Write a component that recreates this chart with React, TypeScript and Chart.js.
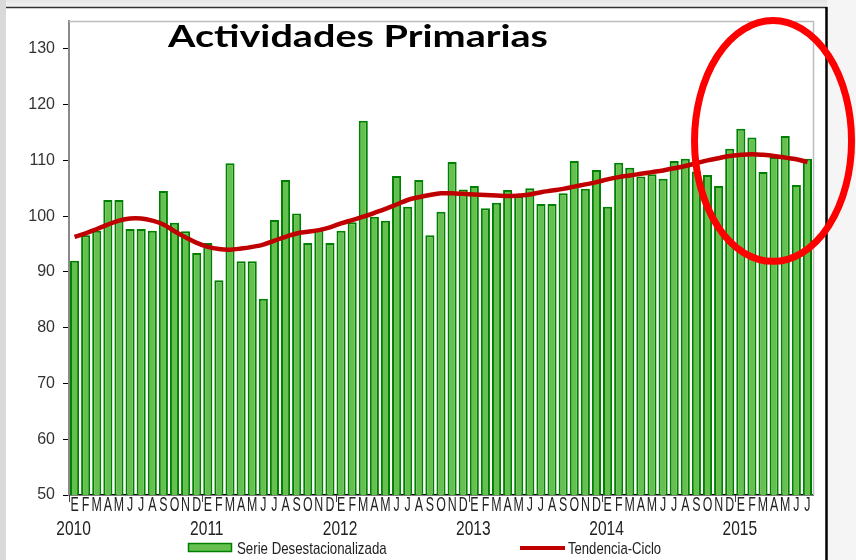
import React, { useEffect, useRef } from "react";
import { Chart, registerables } from "chart.js";

Chart.register(...registerables);

const TITLE = "Actividades Primarias";
const SERIES_NAME = "Serie Desestacionalizada";
const TREND_NAME = "Tendencia-Ciclo";

const MONTHS = ["E", "F", "M", "A", "M", "J", "J", "A", "S", "O", "N", "D"];
const YEARS = ["2010", "2011", "2012", "2013", "2014", "2015"];
const Y_TICKS = [50, 60, 70, 80, 90, 100, 110, 120, 130];
const Y_MIN = 50;
const Y_MAX = 135;

const SERIE_2010 = [92.0, 96.6, 97.4, 102.9, 102.9, 97.7, 97.7, 97.4, 104.5, 98.8, 97.3, 93.4];
const SERIE_2011 = [95.2, 88.5, 109.5, 91.9, 91.9, 85.2, 99.3, 106.5, 100.5, 95.2, 97.7, 95.2];
const SERIE_2012 = [97.4, 98.9, 117.1, 99.9, 99.2, 107.2, 101.7, 106.5, 96.6, 100.8, 109.7, 104.8];
const SERIE_2013 = [105.4, 101.4, 102.4, 104.7, 103.6, 105.0, 102.2, 102.2, 104.1, 109.9, 104.9, 108.3];
const SERIE_2014 = [101.7, 109.6, 108.7, 107.1, 107.5, 106.7, 109.9, 110.3, 108.0, 107.4, 105.4, 112.1];
const SERIE_2015 = [115.7, 114.1, 107.9, 110.6, 114.4, 105.6, 110.3];

const TREND_2010 = [96.3, 96.9, 97.7, 98.5, 99.2, 99.6, 99.6, 99.2, 98.5, 97.3, 96.2, 95.2];
const TREND_2011 = [94.5, 94.1, 94.0, 94.2, 94.5, 94.9, 95.6, 96.3, 96.9, 97.2, 97.5, 98.0];
const TREND_2012 = [98.7, 99.3, 99.9, 100.6, 101.3, 102.1, 102.9, 103.4, 103.8, 104.1, 104.1, 104.0];
const TREND_2013 = [103.9, 103.8, 103.7, 103.6, 103.7, 103.9, 104.3, 104.6, 104.9, 105.3, 105.7, 106.1];
const TREND_2014 = [106.6, 107.0, 107.3, 107.6, 107.9, 108.2, 108.6, 109.0, 109.5, 110.0, 110.4, 110.8];
const TREND_2015 = [111.0, 111.1, 111.0, 110.8, 110.5, 110.2, 109.7];

// red highlight ellipse (annotation), in data units
const ELLIPSE_CENTER_INDEX = 62.9;
const ELLIPSE_CENTER_VALUE = 113.5;
const ELLIPSE_HALF_MONTHS = 7.07;
const ELLIPSE_HALF_UNITS = 21.6;

const SERIE = [...SERIE_2010, ...SERIE_2011, ...SERIE_2012, ...SERIE_2013, ...SERIE_2014, ...SERIE_2015];
const TREND = [...TREND_2010, ...TREND_2011, ...TREND_2012, ...TREND_2013, ...TREND_2014, ...TREND_2015];
const LABELS = YEARS.flatMap((y) => MONTHS.map((m) => `${m} ${y}`)).slice(0, SERIE.length);

const BAR_FILL = "#66C04F";
const BAR_BORDER = "#008000";
const LINE_COLOR = "#C00000";
const FONT = '"Liberation Sans", Arial, sans-serif';
const TITLE_FONT = 'bold 31px Lato, "Open Sans", sans-serif';

function drawScaled(
  ctx: CanvasRenderingContext2D,
  text: string,
  x: number,
  y: number,
  font: string,
  sx: number,
  align: CanvasTextAlign,
  color: string
) {
  ctx.save();
  ctx.font = font;
  ctx.fillStyle = color;
  ctx.textAlign = align;
  ctx.textBaseline = "alphabetic";
  ctx.translate(x, y);
  ctx.scale(sx, 1);
  ctx.fillText(text, 0, 0);
  ctx.restore();
}

const decorPlugin = {
  id: "decor",
  beforeDraw(chart: any) {
    const ctx: CanvasRenderingContext2D = chart.ctx;
    const W = chart.width;
    const H = chart.height;
    ctx.save();
    ctx.fillStyle = "#d9d9d9";
    ctx.fillRect(0, 0, W, H);
    const g = ctx.createLinearGradient(0, 0, 0, 8);
    g.addColorStop(0, "#e6e6e6");
    g.addColorStop(1, "#f4f4f4");
    ctx.fillStyle = g;
    ctx.fillRect(6, 0, W - 6, 8);
    ctx.fillStyle = "#f5f5f5";
    ctx.fillRect(827, 0, W - 827, H);
    ctx.fillStyle = "#ffffff";
    ctx.fillRect(6, 7, 820, H - 7);
    ctx.strokeStyle = "#333333";
    ctx.lineWidth = 1.5;
    ctx.beginPath();
    ctx.moveTo(6, 7.5);
    ctx.lineTo(827, 7.5);
    ctx.stroke();
    ctx.strokeStyle = "#000000";
    ctx.lineWidth = 2.5;
    ctx.beginPath();
    ctx.moveTo(826.5, 7);
    ctx.lineTo(826.5, H);
    ctx.stroke();
    ctx.restore();
  },
  beforeDatasetsDraw(chart: any) {
    const ctx: CanvasRenderingContext2D = chart.ctx;
    const a = chart.chartArea;
    ctx.save();
    ctx.strokeStyle = "#bdbdbd";
    ctx.lineWidth = 1.5;
    ctx.beginPath();
    ctx.moveTo(a.left, a.top + 0.5);
    ctx.lineTo(a.right + 0.5, a.top + 0.5);
    ctx.lineTo(a.right + 0.5, a.bottom);
    ctx.stroke();
    ctx.restore();
  },
  afterDraw(chart: any) {
    const ctx: CanvasRenderingContext2D = chart.ctx;
    const xs = chart.scales.x;
    const ys = chart.scales.y;
    const a = chart.chartArea;
    const step = xs.getPixelForValue(1) - xs.getPixelForValue(0);

    // year boundary ticks
    ctx.save();
    ctx.strokeStyle = "#444";
    ctx.lineWidth = 1;
    for (let i = 0; i < SERIE.length; i += 12) {
      const px = Math.round(xs.getPixelForValue(i) - step / 2) + 0.5;
      ctx.beginPath();
      ctx.moveTo(px, a.bottom);
      ctx.lineTo(px, a.bottom + 7);
      ctx.stroke();
    }
    ctx.restore();

    // month letters and years
    LABELS.forEach((_, i) => {
      const px = xs.getPixelForValue(i);
      drawScaled(ctx, MONTHS[i % 12], px, a.bottom + 16, `20px ${FONT}`, 0.62, "center", "#222");
      if (i % 12 === 0) {
        drawScaled(ctx, YEARS[Math.floor(i / 12)], px - 1, a.bottom + 40, `21px ${FONT}`, 0.74, "center", "#222");
      }
    });

    // title
    ctx.save();
    ctx.font = TITLE_FONT;
    const tw = ctx.measureText(TITLE).width;
    ctx.restore();
    drawScaled(ctx, TITLE, 168, 47, TITLE_FONT, 380 / tw, "left", "#000");

    // legend
    ctx.save();
    ctx.fillStyle = BAR_FILL;
    ctx.fillRect(188, 543, 44, 9);
    ctx.strokeStyle = BAR_BORDER;
    ctx.lineWidth = 1.5;
    ctx.strokeRect(188.5, 543.5, 43, 8);
    ctx.strokeStyle = LINE_COLOR;
    ctx.lineWidth = 4;
    ctx.beginPath();
    ctx.moveTo(520, 548);
    ctx.lineTo(565, 548);
    ctx.stroke();
    ctx.restore();
    drawScaled(ctx, SERIES_NAME, 237, 554, `17px ${FONT}`, 0.78, "left", "#222");
    drawScaled(ctx, TREND_NAME, 568, 554, `17px ${FONT}`, 0.77, "left", "#222");

    // highlight ellipse
    const cx = xs.getPixelForValue(ELLIPSE_CENTER_INDEX);
    const cy = ys.getPixelForValue(ELLIPSE_CENTER_VALUE);
    const rx = ELLIPSE_HALF_MONTHS * step;
    const ry = ys.getPixelForValue(ELLIPSE_CENTER_VALUE - ELLIPSE_HALF_UNITS) - cy;
    ctx.save();
    ctx.strokeStyle = "#FF0000";
    ctx.lineWidth = 7;
    ctx.beginPath();
    ctx.ellipse(cx, cy, rx, ry, 0, 0, Math.PI * 2);
    ctx.stroke();
    ctx.restore();
  },
};

export default function App() {
  const ref = useRef<HTMLCanvasElement | null>(null);

  useEffect(() => {
    if (!ref.current) return;
    const chart = new Chart(ref.current, {
      type: "bar",
      data: {
        labels: LABELS,
        datasets: [
          {
            type: "line",
            label: TREND_NAME,
            data: TREND,
            borderColor: LINE_COLOR,
            borderWidth: 4.5,
            pointRadius: 0,
            tension: 0.4,
            fill: false,
            order: 0,
          } as any,
          {
            type: "bar",
            label: SERIES_NAME,
            data: SERIE,
            backgroundColor: BAR_FILL,
            borderColor: BAR_BORDER,
            borderWidth: 2,
            borderSkipped: false,
            barPercentage: 0.82,
            categoryPercentage: 1,
            order: 1,
          },
        ],
      },
      options: {
        animation: false,
        responsive: false,
        maintainAspectRatio: false,
        layout: { padding: { top: 21, right: 43, left: 0, bottom: 0 } },
        plugins: {
          legend: { display: false },
          title: { display: false },
          tooltip: { enabled: false },
        },
        scales: {
          x: {
            type: "category",
            offset: true,
            grid: { display: false },
            ticks: { display: false },
            border: { display: true, color: "#000", width: 1.5 },
            afterFit: (scale: any) => {
              scale.height = 65;
            },
          },
          y: {
            min: Y_MIN,
            max: Y_MAX,
            afterBuildTicks: (scale: any) => {
              scale.ticks = Y_TICKS.map((v) => ({ value: v }));
            },
            grid: {
              drawOnChartArea: false,
              drawTicks: true,
              tickLength: 6,
              color: "#000",
              tickColor: "#000",
            },
            border: { display: true, color: "#8a8a8a", width: 2 },
            ticks: {
              padding: 8,
              color: "#333",
              font: { family: "Liberation Sans", size: 16 },
            },
            afterFit: (scale: any) => {
              scale.width = 69;
            },
          },
        },
      },
      plugins: [decorPlugin],
    });
    return () => chart.destroy();
  }, []);

  return (
    <div style={{ position: "fixed", left: 0, top: 0, width: 856, height: 560 }}>
      <canvas ref={ref} width={856} height={560} style={{ width: 856, height: 560, display: "block" }} />
    </div>
  );
}
